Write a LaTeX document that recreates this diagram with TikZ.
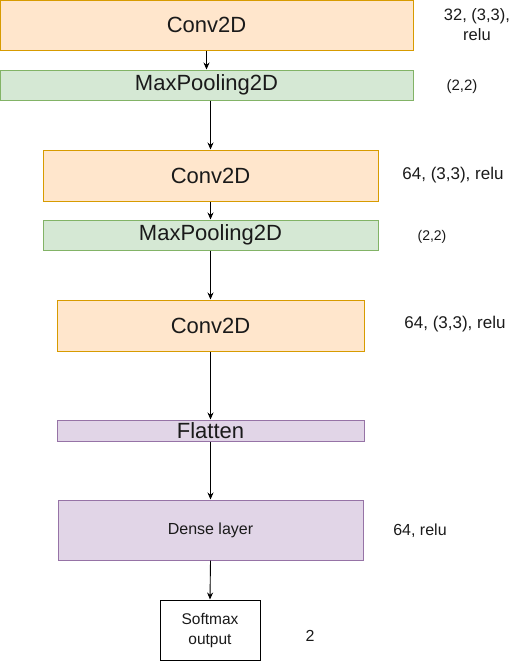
\documentclass[tikz,border=0pt]{standalone}
\usepackage{fontspec}
\setmainfont{Liberation Sans}
\usetikzlibrary{arrows.meta}
\definecolor{orfill}{HTML}{FFE6CC}
\definecolor{ordraw}{HTML}{D79B00}
\definecolor{grfill}{HTML}{D5E8D4}
\definecolor{grdraw}{HTML}{82B366}
\definecolor{pufill}{HTML}{E1D5E7}
\definecolor{pudraw}{HTML}{9673A6}
\definecolor{txt}{HTML}{1A1A1A}
\tikzset{
  layer/.style={rectangle, inner sep=0pt, line width=1pt, text=txt},
  convbox/.style={layer, fill=orfill, draw=ordraw, font=\fontsize{22}{26}\selectfont},
  poolbox/.style={layer, fill=grfill, draw=grdraw, font=\fontsize{22}{26}\selectfont},
  flatbox/.style={layer, fill=pufill, draw=pudraw, font=\fontsize{22}{26}\selectfont},
  densebox/.style={layer, fill=pufill, draw=pudraw, font=\fontsize{16}{19}\selectfont},
  outbox/.style={layer, fill=white, draw=black, align=center, font=\fontsize{15.5}{20}\selectfont},
  note/.style={inner sep=0pt, text=txt, align=center, font=\fontsize{17}{20}\selectfont},
  arr/.style={-{Stealth[length=7pt,width=6pt]}, line width=0.9pt, black}
}
\begin{document}
\begin{tikzpicture}[x=1pt,y=-1pt]
\useasboundingbox (0,0) rectangle (532,662);
\node[convbox, minimum width=413pt, minimum height=50pt] (c1) at (206.5,25) {Conv2D};
\node[poolbox, minimum width=413pt, minimum height=30pt] (p1) at (206.5,85) {MaxPooling2D};
\node[convbox, minimum width=335pt, minimum height=51pt] (c2) at (210.5,175.5) {Conv2D};
\node[poolbox, minimum width=335pt, minimum height=30pt] (p2) at (210.5,235) {MaxPooling2D};
\node[convbox, minimum width=307pt, minimum height=51pt] (c3) at (210.5,325.5) {Conv2D};
\node[flatbox, minimum width=307pt, minimum height=21pt] (fl) at (210.5,430.5) {Flatten};
\node[densebox, minimum width=305pt, minimum height=60pt] (de) at (210.5,530) {Dense layer};
\node[outbox, minimum width=100pt, minimum height=60pt] (so) at (210,630) {Softmax\\output};

\node[note, font=\fontsize{16.5}{20}\selectfont] (l1) at (477,25) {32, (3,3),\\relu};
\node[note, font=\fontsize{15}{18}\selectfont] (l2) at (462,87) {(2,2)};
\node[note] (l3) at (453,175) {64, (3,3), relu};
\node[note, font=\fontsize{14}{17}\selectfont] (l4) at (432,237) {(2,2)};
\node[note] (l5) at (455,324) {64, (3,3), relu};
\node[note, font=\fontsize{16}{19}\selectfont] (l6) at (420,531) {64, relu};
\node[note, font=\fontsize{16}{19}\selectfont] (l7) at (310,636) {2};

\draw[arr] (c1.south) -- (p1.north);
\draw[arr] (p1.south -| c2.north) -- (c2.north);
\draw[arr] (c2.south) -- (p2.north);
\draw[arr] (p2.south) -- (c3.north);
\draw[arr] (c3.south) -- (fl.north);
\draw[arr] (fl.south) -- (de.north);
\draw[arr] (de.south) -- (so.north);
\end{tikzpicture}
\end{document}
